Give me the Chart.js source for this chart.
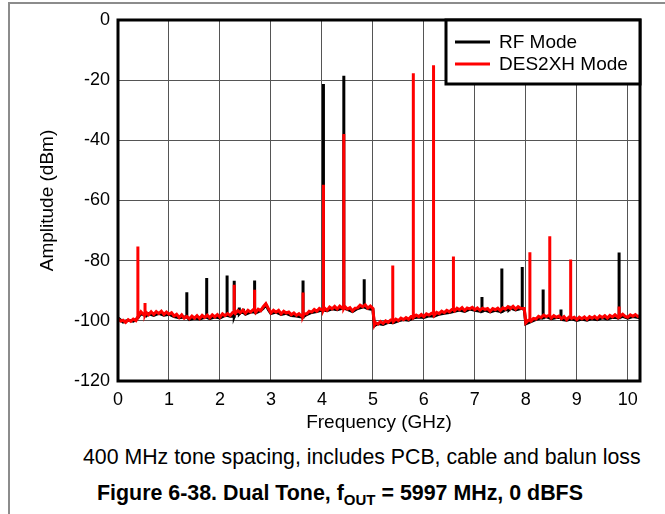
<!DOCTYPE html>
<html>
<head>
<meta charset="utf-8">
<script src="https://cdn.jsdelivr.net/npm/chart.js@4.4.0/dist/chart.umd.min.js"></script>
<style>
  html, body { margin: 0; padding: 0; background: #fff; }
  body { width: 665px; height: 514px; position: relative; overflow: hidden; font-family: "Liberation Sans", Arial, sans-serif; }
  #frame { position: absolute; left: 8px; top: 2px; width: 680px; height: 530px; border-top: 2px solid #8c8c8c; border-left: 2px solid #8c8c8c; }
  #wrap { position: absolute; left: 0; top: 0; width: 665px; height: 440px; }
  .note { position: absolute; color: #000; white-space: nowrap; line-height: 24px; }
  #sub { left: 83px; top: 445px; font-size: 21.3px; }
  #cap { left: 97px; top: 481px; font-size: 21.4px; font-weight: bold; }
  #cap span { font-size: 15px; position: relative; top: 5px; }
</style>
</head>
<body>
<div id="frame"></div>
<div id="wrap"><canvas id="grafico" width="665" height="440"></canvas></div>
<div class="note" id="sub">400 MHz tone spacing, includes PCB, cable and balun loss</div>
<div class="note" id="cap">Figure 6-38. Dual Tone, f<span>OUT</span> = 5997 MHz, 0 dBFS</div>
<script>
const xTicks = [0, 1, 2, 3, 4, 5, 6, 7, 8, 9, 10];
const yTicks = [0, -20, -40, -60, -80, -100, -120];
const seriesNames = ["RF Mode", "DES2XH Mode"];
const seriesColors = ["#000000", "#ff0000"];

// noise floor, [GHz, dBm]
const rfFloor = [[0,-99.0],[0.1,-100.4],[0.2,-99.8],[0.3,-100.1],[0.38,-99.2],[0.45,-97.6],[0.55,-98.4],[0.6,-97.6],[0.7,-98.2],[0.8,-97.5],[0.9,-98.1],[1.0,-97.8],[1.1,-98.6],[1.2,-99.0],[1.3,-98.7],[1.4,-99.6],[1.5,-99.1],[1.6,-99.4],[1.7,-98.8],[1.8,-99.3],[1.9,-98.7],[2.0,-99.0],[2.1,-98.2],[2.2,-98.5],[2.3,-97.6],[2.4,-97.2],[2.5,-97.8],[2.6,-97.1],[2.7,-97.4],[2.8,-96.6],[2.85,-95.8],[2.9,-94.6],[2.95,-96.3],[3.0,-97.6],[3.1,-97.1],[3.2,-97.9],[3.3,-97.5],[3.4,-98.2],[3.5,-98.4],[3.6,-98.7],[3.7,-97.9],[3.8,-97.2],[3.9,-96.9],[4.0,-96.4],[4.1,-96.6],[4.2,-96.0],[4.3,-96.3],[4.4,-95.8],[4.5,-96.2],[4.6,-96.9],[4.7,-95.9],[4.8,-95.4],[4.9,-95.9],[5.0,-96.2],[5.03,-101.6],[5.1,-100.9],[5.2,-101.2],[5.3,-100.5],[5.4,-100.6],[5.5,-100.0],[5.6,-99.6],[5.7,-99.8],[5.8,-99.0],[5.9,-98.7],[6.0,-98.9],[6.1,-98.3],[6.2,-98.5],[6.3,-97.8],[6.4,-97.5],[6.5,-97.2],[6.6,-96.8],[6.7,-96.4],[6.8,-96.9],[6.9,-96.1],[7.0,-96.5],[7.1,-96.8],[7.2,-96.4],[7.3,-97.0],[7.4,-96.5],[7.5,-96.9],[7.6,-96.3],[7.7,-95.8],[7.8,-96.4],[7.9,-95.9],[7.97,-96.3],[8.0,-101.0],[8.1,-100.3],[8.2,-99.5],[8.3,-99.0],[8.4,-98.6],[8.5,-99.3],[8.6,-98.9],[8.7,-99.5],[8.8,-99.8],[8.9,-99.3],[9.0,-99.9],[9.1,-99.4],[9.2,-99.8],[9.3,-99.2],[9.4,-99.6],[9.5,-99.0],[9.6,-99.4],[9.7,-98.8],[9.8,-99.0],[9.9,-98.5],[10.0,-99.1],[10.1,-98.6],[10.24,-99.0]];
const desFloor = [[0,-99.3],[0.05,-100.1],[0.1,-99.8],[0.15,-100.5],[0.2,-99.6],[0.25,-100.2],[0.3,-99.4],[0.35,-99.9],[0.38,-98.8],[0.45,-97.0],[0.5,-97.9],[0.55,-97.1],[0.6,-98.0],[0.65,-97.0],[0.7,-97.9],[0.75,-96.9],[0.8,-97.6],[0.85,-96.8],[0.9,-97.9],[0.95,-97.1],[1.0,-97.8],[1.05,-97.3],[1.1,-98.4],[1.15,-97.8],[1.2,-98.9],[1.25,-98.0],[1.3,-99.1],[1.35,-98.5],[1.4,-99.3],[1.45,-98.4],[1.5,-99.1],[1.55,-98.3],[1.6,-99.2],[1.65,-98.2],[1.7,-98.9],[1.75,-98.1],[1.8,-99.0],[1.85,-98.0],[1.9,-98.7],[1.95,-97.9],[2.0,-98.8],[2.05,-97.7],[2.1,-98.3],[2.15,-97.6],[2.2,-98.2],[2.25,-97.2],[2.3,-97.6],[2.35,-96.6],[2.4,-97.3],[2.45,-96.4],[2.5,-97.5],[2.55,-96.5],[2.6,-97.1],[2.65,-96.3],[2.7,-97.2],[2.75,-96.1],[2.8,-96.6],[2.85,-95.3],[2.9,-94.3],[2.95,-95.9],[3.0,-97.4],[3.05,-96.5],[3.1,-97.1],[3.15,-96.5],[3.2,-97.7],[3.25,-96.8],[3.3,-97.4],[3.35,-97.1],[3.4,-98.0],[3.45,-97.4],[3.5,-98.2],[3.55,-97.6],[3.6,-98.4],[3.65,-97.6],[3.7,-97.7],[3.75,-96.8],[3.8,-97.1],[3.85,-96.2],[3.9,-96.8],[3.95,-95.9],[4.0,-96.4],[4.05,-95.7],[4.1,-96.5],[4.15,-95.4],[4.2,-96.0],[4.25,-95.2],[4.3,-96.1],[4.35,-95.1],[4.4,-95.8],[4.45,-95.2],[4.5,-96.1],[4.55,-95.6],[4.6,-96.7],[4.65,-95.8],[4.7,-95.7],[4.75,-94.8],[4.8,-95.3],[4.85,-94.7],[4.9,-95.8],[4.95,-95.1],[5.0,-95.9],[5.03,-101.3],[5.05,-100.6],[5.1,-101.1],[5.15,-100.2],[5.2,-100.9],[5.25,-100.0],[5.3,-100.5],[5.35,-99.7],[5.4,-100.3],[5.45,-99.4],[5.5,-99.9],[5.55,-99.1],[5.6,-99.6],[5.65,-98.9],[5.7,-99.5],[5.75,-98.6],[5.8,-98.9],[5.85,-98.1],[5.9,-98.6],[5.95,-97.9],[6.0,-98.6],[6.05,-97.7],[6.1,-98.1],[6.15,-97.5],[6.2,-98.2],[6.25,-97.2],[6.3,-97.6],[6.35,-96.8],[6.4,-97.3],[6.45,-96.5],[6.5,-97.0],[6.55,-96.2],[6.6,-96.7],[6.65,-95.8],[6.7,-96.3],[6.75,-95.6],[6.8,-96.6],[6.85,-95.7],[6.9,-96.0],[6.95,-95.5],[7.0,-96.3],[7.05,-95.7],[7.1,-96.5],[7.15,-95.8],[7.2,-96.2],[7.25,-95.9],[7.3,-96.8],[7.35,-95.9],[7.4,-96.3],[7.45,-95.8],[7.5,-96.6],[7.55,-95.7],[7.6,-96.1],[7.65,-95.3],[7.7,-95.9],[7.75,-95.2],[7.8,-96.1],[7.85,-95.3],[7.9,-95.8],[7.97,-95.9],[8.0,-100.7],[8.05,-99.8],[8.1,-100.1],[8.15,-99.2],[8.2,-99.4],[8.25,-98.5],[8.3,-98.9],[8.35,-98.1],[8.4,-98.6],[8.45,-98.2],[8.5,-99.1],[8.55,-98.3],[8.6,-98.8],[8.65,-98.4],[8.7,-99.3],[8.75,-98.6],[8.8,-99.6],[8.85,-98.7],[8.9,-99.2],[8.95,-98.8],[9.0,-99.6],[9.05,-98.8],[9.1,-99.3],[9.15,-98.7],[9.2,-99.5],[9.25,-98.6],[9.3,-99.1],[9.35,-98.5],[9.4,-99.3],[9.45,-98.4],[9.5,-98.9],[9.55,-98.3],[9.6,-99.1],[9.65,-98.2],[9.7,-98.7],[9.75,-98.0],[9.8,-98.7],[9.9,-97.8],[9.95,-98.5],[10.0,-98.8],[10.05,-98.0],[10.1,-98.5],[10.15,-97.9],[10.2,-98.6],[10.24,-98.3]];

// tones and spurs, [GHz, peak dBm]
const rfSpurs = [[1.35,-90.5],[1.74,-85.8],[2.14,-84.9],[2.28,-86.7],[2.38,-95.6],[2.46,-96.0],[2.68,-86.6],[3.63,-86.6],[4.03,-21.3],[4.43,-18.5],[4.83,-86.2],[7.14,-92.1],[7.53,-82.6],[7.67,-95.0],[7.93,-82.1],[8.34,-89.6],[8.69,-96.2],[9.83,-77.3]];
const desSpurs = [[0.39,-75.3],[0.53,-94.1],[2.28,-88.0],[2.68,-89.7],[3.63,-90.6],[4.03,-54.8],[4.43,-37.9],[5.39,-81.6],[5.79,-17.7],[6.19,-15.0],[6.58,-78.6],[8.08,-77.2],[8.47,-71.9],[8.88,-79.6],[9.83,-95.2]];

const fuente = '"Liberation Sans", Arial, sans-serif';

function armarTraza(floor, spurs) {
    const pts = floor.map(p => ({ x: p[0], y: p[1] }));
    spurs.forEach(s => {
        let base = floor[0][1];
        floor.forEach(p => { if (p[0] <= s[0]) base = p[1]; });
        pts.push({ x: s[0], y: base }, { x: s[0], y: s[1] }, { x: s[0], y: base });
    });
    pts.sort((a, b) => a.x - b.x);
    return pts;
}

// plot frame + boxed legend in the upper right corner
const marcoLeyenda = {
    id: "marcoLeyenda",
    afterDraw(chart) {
        const { ctx, chartArea: a } = chart;
        ctx.save();
        ctx.strokeStyle = "#000";
        ctx.lineWidth = 3;
        ctx.strokeRect(a.left, a.top, a.right - a.left, a.bottom - a.top);

        const lx = 446, ly = a.top, lw = a.right - lx, lh = 64;
        ctx.fillStyle = "#fff";
        ctx.fillRect(lx, ly, lw, lh);
        ctx.strokeRect(lx, ly, lw, lh);
        ctx.font = "19px " + fuente;
        ctx.textBaseline = "middle";
        seriesNames.forEach((name, i) => {
            const y = ly + 22 + i * 22;
            ctx.strokeStyle = seriesColors[i];
            ctx.lineWidth = 3;
            ctx.beginPath();
            ctx.moveTo(lx + 9, y);
            ctx.lineTo(lx + 44, y);
            ctx.stroke();
            ctx.fillStyle = "#000";
            ctx.fillText(name, lx + 53, y + 1);
        });
        ctx.restore();
    }
};

const ctx = document.getElementById("grafico").getContext("2d");
new Chart(ctx, {
    type: "line",
    data: {
        datasets: [
            // red first so it is painted on top of the black trace
            { label: seriesNames[1], data: armarTraza(desFloor, desSpurs), borderColor: seriesColors[1], borderWidth: 3, pointRadius: 0, tension: 0 },
            { label: seriesNames[0], data: armarTraza(rfFloor, rfSpurs), borderColor: seriesColors[0], borderWidth: 3, pointRadius: 0, tension: 0 }
        ]
    },
    options: {
        responsive: false,
        animation: false,
        devicePixelRatio: 1,
        layout: { padding: { left: 0, right: 25, top: 20, bottom: 0 } },
        plugins: { legend: { display: false }, tooltip: { enabled: false } },
        scales: {
            x: {
                type: "linear",
                min: 0,
                max: 10.24,
                afterBuildTicks: s => { s.ticks = xTicks.map(v => ({ value: v })); },
                afterFit: s => { s.height = 59; },
                grid: { color: "#555", lineWidth: 1, drawTicks: false },
                border: { display: false },
                ticks: { color: "#000", font: { size: 18, family: fuente }, padding: 8, maxRotation: 0, autoSkip: false },
                title: { display: true, text: "Frequency (GHz)", color: "#000", font: { size: 19, family: fuente }, padding: { top: 0, bottom: 6 } }
            },
            y: {
                min: -120,
                max: 0,
                afterBuildTicks: s => { s.ticks = yTicks.map(v => ({ value: v })); },
                afterFit: s => { s.width = 118; },
                grid: { color: "#555", lineWidth: 1, drawTicks: false },
                border: { display: false },
                ticks: { color: "#000", font: { size: 18, family: fuente }, padding: 8 },
                title: { display: true, text: "Amplitude (dBm)", color: "#000", font: { size: 19, family: fuente }, padding: { top: 36, bottom: 0 } }
            }
        }
    },
    plugins: [marcoLeyenda]
});
</script>
</body>
</html>
